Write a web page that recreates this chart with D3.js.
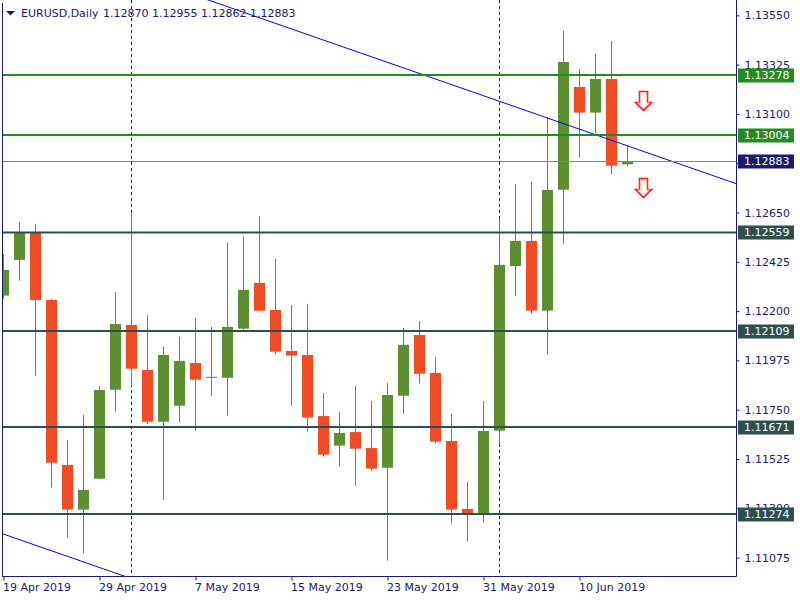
<!DOCTYPE html>
<html><head><meta charset="utf-8">
<script src="https://cdn.jsdelivr.net/npm/d3@7"></script>
<style>html,body{margin:0;padding:0;background:#fff;}svg{display:block;}</style>
</head><body>
<script>
const dates = ["19 Apr 2019","22 Apr 2019","23 Apr 2019","24 Apr 2019","25 Apr 2019","26 Apr 2019","29 Apr 2019","30 Apr 2019","1 May 2019","2 May 2019","3 May 2019","6 May 2019","7 May 2019","8 May 2019","9 May 2019","10 May 2019","13 May 2019","14 May 2019","15 May 2019","16 May 2019","17 May 2019","20 May 2019","21 May 2019","22 May 2019","23 May 2019","24 May 2019","27 May 2019","28 May 2019","29 May 2019","30 May 2019","31 May 2019","3 Jun 2019","4 Jun 2019","5 Jun 2019","6 Jun 2019","7 Jun 2019","10 Jun 2019","11 Jun 2019","12 Jun 2019","13 Jun 2019"];
const open  = [1.12271,1.12434,1.12558,1.12251,1.11498,1.11294,1.11435,1.11841,1.12137,1.11931,1.11695,1.11768,1.11963,1.11897,1.11896,1.12120,1.12329,1.12205,1.12018,1.12000,1.11721,1.11586,1.11648,1.11575,1.11485,1.11814,1.12091,1.11918,1.11607,1.11297,1.11271,1.11654,1.12406,1.12520,1.12202,1.12754,1.13223,1.13106,1.13260,1.12870];
const high  = [1.12461,1.12607,1.12598,1.12255,1.11612,1.11726,1.11858,1.12287,1.12647,1.12182,1.12038,1.12083,1.12169,1.12129,1.12513,1.12540,1.12634,1.12438,1.12228,1.12233,1.11826,1.11740,1.11858,1.11790,1.11872,1.12123,1.12155,1.11991,1.11731,1.11420,1.11790,1.12625,1.12780,1.12790,1.13085,1.13479,1.13305,1.13374,1.13433,1.12955];
const low   = [1.12256,1.12339,1.11905,1.11394,1.11166,1.11095,1.11433,1.11741,1.11860,1.11685,1.11338,1.11691,1.11654,1.11813,1.11723,1.12106,1.12202,1.12001,1.11768,1.11650,1.11536,1.11490,1.11403,1.11472,1.11061,1.11732,1.11869,1.11595,1.11230,1.11148,1.11234,1.11589,1.12269,1.12188,1.12001,1.12507,1.12901,1.13013,1.12823,1.12862];
const close = [1.12388,1.12558,1.12251,1.11508,1.11294,1.11384,1.11840,1.12141,1.11937,1.11695,1.12000,1.11972,1.11887,1.11900,1.12128,1.12297,1.12202,1.12015,1.11997,1.11714,1.11545,1.11644,1.11572,1.11481,1.11817,1.12046,1.11914,1.11604,1.11294,1.11271,1.11653,1.12411,1.12520,1.12202,1.12753,1.13337,1.13106,1.13260,1.12864,1.12883];

const xTickLabels = ["19 Apr 2019","29 Apr 2019","7 May 2019","15 May 2019","23 May 2019","31 May 2019","10 Jun 2019"];
const yTicks = [1.13550,1.13325,1.13100,1.12875,1.12650,1.12425,1.12200,1.11975,1.11750,1.11525,1.11300,1.11075];
const separatorDates = ["1 May 2019","3 Jun 2019"];
const resistanceLevels = [1.13278,1.13004];
const supportLevels = [1.12559,1.12109,1.11671,1.11274];
const currentPrice = 1.12883;
// trend channel: [bar index, price]
const trendUpper = [[0,1.13946],[39,1.12955]];
const trendLower = [[0,1.11183],[39,1.10192]];
const arrowBars = [40,40];
const arrowPrices = [1.13205,1.12808];
const symbolTitle = "EURUSD,Daily";
const titleValues = "1.12870 1.12955 1.12862 1.12883";

const W = 800, H = 600;
const L = 2, R = 736, T = 0, B = 576;
const navy = "#1a1a6e";
const bull = "#5b8f30", bear = "#f24c27";
const font = "DejaVu Sans, Verdana, sans-serif";

const svg = d3.select("body").append("svg").attr("width", W).attr("height", H);

const x = d3.scaleLinear().domain([-0.0625, 45.8125]).range([L, R]);
const y = d3.scaleLinear().domain([1.10991, 1.13620]).range([B, T]);
const idx = d => dates.indexOf(d);

const plot = svg.append("g");
plot.append("clipPath").attr("id","clip").append("rect").attr("x",L).attr("y",T).attr("width",R-L).attr("height",B-T);
const g = plot.append("g").attr("clip-path","url(#clip)");

// month separators
g.selectAll(".sep").data(separatorDates).join("line")
  .attr("x1", d => Math.round(x(idx(d))) + 0.5).attr("x2", d => Math.round(x(idx(d))) + 0.5)
  .attr("y1", T).attr("y2", B)
  .attr("stroke", navy).attr("stroke-width", 1).attr("stroke-dasharray", "3,3");

// candles
const bars = dates.map((d,i) => ({i, o: open[i], h: high[i], l: low[i], c: close[i]}));
const cg = g.selectAll(".candle").data(bars).join("g");
cg.append("line")
  .attr("x1", d => Math.round(x(d.i)) + 0.5).attr("x2", d => Math.round(x(d.i)) + 0.5)
  .attr("y1", d => y(d.h)).attr("y2", d => y(d.l))
  .attr("stroke", d => d.c >= d.o ? bull : bear).attr("stroke-width", 1);
cg.append("rect")
  .attr("x", d => Math.round(x(d.i)) - 5).attr("width", 11)
  .attr("y", d => y(Math.max(d.o, d.c)))
  .attr("height", d => Math.max(1, Math.abs(y(d.o) - y(d.c))))
  .attr("fill", d => d.c >= d.o ? bull : bear);

// trend channel
const tl = d3.line().x(p => x(p[0])).y(p => y(p[1]));
function extend(pts){
  const [a,b] = pts; const s = (b[1]-a[1])/(b[0]-a[0]);
  return [[-1, a[1] + s*(-1-a[0])],[47, a[1] + s*(47-a[0])]];
}
[trendUpper, trendLower].forEach(t => {
  g.append("path").attr("d", tl(extend(t))).attr("fill","none").attr("stroke","#0000ff").attr("stroke-width",1);
});

// levels
g.selectAll(".res").data(resistanceLevels).join("line")
  .attr("x1", L).attr("x2", R).attr("y1", d => y(d)).attr("y2", d => y(d))
  .attr("stroke", "#228b22").attr("stroke-width", 2);
g.selectAll(".sup").data(supportLevels).join("line")
  .attr("x1", L).attr("x2", R).attr("y1", d => y(d)).attr("y2", d => y(d))
  .attr("stroke", "#2f4f4f").attr("stroke-width", 2);
g.append("line").attr("x1", L).attr("x2", R)
  .attr("y1", Math.round(y(currentPrice)) + 0.5).attr("y2", Math.round(y(currentPrice)) + 0.5)
  .attr("stroke", "#778899").attr("stroke-width", 1);

// arrows
const arrowPath = (cx, ty) => `M${cx-4},${ty} L${cx+4},${ty} L${cx+4},${ty+11} L${cx+8},${ty+11} L${cx},${ty+19} L${cx-8},${ty+11} L${cx-4},${ty+11} Z`;
arrowBars.forEach((b,k) => {
  const cx = Math.round(x(b)) + 0.5, ty = Math.round(y(arrowPrices[k])) + 0.5;
  g.append("path").attr("d", arrowPath(cx, ty)).attr("fill","#fff").attr("stroke","#ff1a1a").attr("stroke-width",1.6)
    .attr("stroke-linejoin","miter");
  g.append("path").attr("d", arrowPath(cx, ty)).attr("fill","none").attr("stroke","#ffc0a8").attr("stroke-width",0.8)
    .attr("transform", `translate(${cx},${ty+9}) scale(0.78) translate(${-cx},${-(ty+9)})`);
});

// frame
svg.append("line").attr("x1", L+0.5).attr("x2", L+0.5).attr("y1", 3).attr("y2", B).attr("stroke", navy);

// y axis (label under the current-price box is fully covered in the reference)
const yAxis = d3.axisRight(y).tickValues(yTicks)
  .tickFormat(d => Math.abs(d - currentPrice) < 0.0002 ? "" : d3.format(".5f")(d))
  .tickSize(3).tickPadding(5);
const ya = svg.append("g").attr("transform", `translate(${R+0.5},0)`).call(yAxis);
ya.select(".domain").attr("stroke", navy).attr("d", `M0,0V${B+0.5}`);
ya.selectAll(".tick line").attr("stroke", navy);
ya.selectAll("text").attr("fill", navy).style("font-family", font).style("font-size","11px");

// x axis
const xAxis = d3.axisBottom(x).tickValues(xTickLabels.map(idx)).tickFormat(i => dates[i]).tickSize(4).tickPadding(3);
const xa = svg.append("g").attr("transform", `translate(0.5,${B+0.5})`).call(xAxis);
xa.select(".domain").attr("stroke", navy).attr("d", `M${L-0.5},0H${R}`);
xa.selectAll(".tick line").attr("stroke", navy);
xa.selectAll("text").attr("fill", navy).attr("text-anchor","start").attr("x",-1)
  .style("font-family", font).style("font-size","11px");

// price label boxes
function priceLabel(p, bg){
  const yy = Math.round(y(p));
  svg.append("rect").attr("x", 738).attr("y", yy - 6.5).attr("width", 56).attr("height", 14).attr("fill", bg);
  svg.append("text").attr("x", 744).attr("y", yy).attr("dy","0.36em").attr("fill","#fff")
    .style("font-family", font).style("font-size","11px").text(d3.format(".5f")(p));
}
resistanceLevels.forEach(p => priceLabel(p, "#228b22"));
supportLevels.forEach(p => priceLabel(p, "#2f4f4f"));
priceLabel(currentPrice, "#191970");

// title
svg.append("path").attr("d","M6,11 L15,11 L10.5,15.5 Z").attr("fill", navy);
svg.append("text").attr("x", 21).attr("y", 17).attr("fill", navy)
  .style("font-family", font).style("font-size","11px").text(symbolTitle);
svg.append("text").attr("x", 103).attr("y", 17).attr("fill", navy)
  .style("font-family", font).style("font-size","11px").text(titleValues);
</script>
</body></html>
